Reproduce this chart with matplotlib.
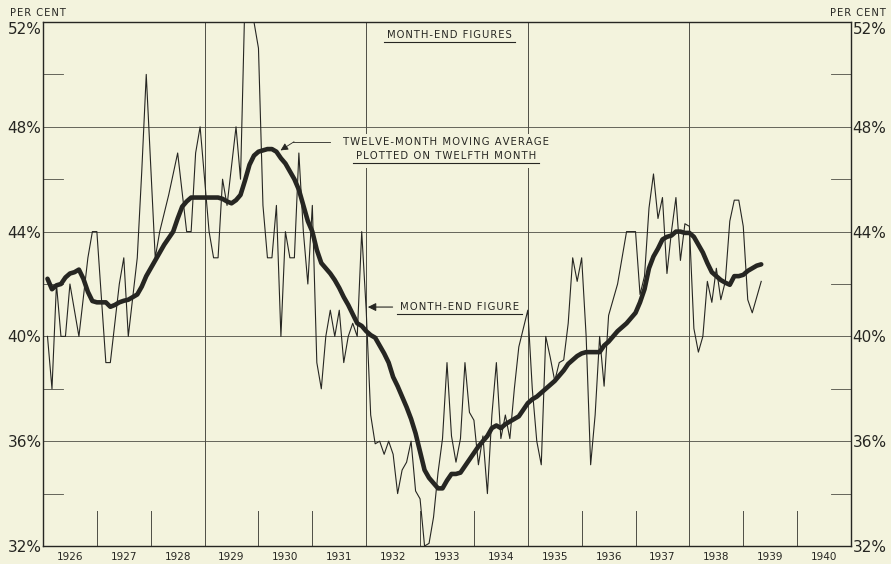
import numpy as np
import matplotlib.pyplot as plt
from matplotlib.lines import Line2D

# month-end figures in per cent, January 1926 through April 1939
month_end = [
    40, 38, 42, 40, 40, 42, 41, 40, 41.5, 43, 44, 44,                      # 1926
    41.5, 39, 39, 40.5, 42, 43, 40, 41.5, 43, 46.3, 50, 46.5,              # 1927
    43, 44, 44.7, 45.4, 46.2, 47, 45.5, 44, 44, 47, 48, 46,                # 1928
    44, 43, 43, 46, 45, 46.5, 48, 46, 53, 54, 52, 51,                      # 1929
    45, 43, 43, 45, 40, 44, 43, 43, 47, 44, 42, 45,                        # 1930
    39, 38, 40, 41, 40, 41, 39, 40, 40.5, 40, 44, 41,                      # 1931
    37, 35.9, 36, 35.5, 36, 35.5, 34, 34.9, 35.2, 36, 34.1, 33.8,          # 1932
    32, 32.1, 33.1, 34.8, 36.1, 39, 36.2, 35.2, 36.1, 39, 37.1, 36.8,      # 1933
    35.1, 36.2, 34, 37, 39, 36.1, 37, 36.1, 38, 39.6, 40.3, 41,            # 1934
    38, 36, 35.1, 40, 39.2, 38.3, 39, 39.1, 40.5, 43, 42.1, 43,            # 1935
    40, 35.1, 37, 40, 38.1, 40.8, 41.4, 42, 43, 44, 44, 44,                # 1936
    41.6, 42.3, 44.9, 46.2, 44.5, 45.3, 42.4, 44, 45.3, 42.9, 44.3, 44.2,  # 1937
    40.3, 39.4, 40, 42.1, 41.3, 42.6, 41.4, 42.1, 44.4, 45.2, 45.2, 44.2,  # 1938
    41.4, 40.9, 41.5, 42.1,                                                # 1939
]

# twelve-month moving average, plotted on the twelfth month
moving_avg = [
    42.2, 41.8, 41.95, 42.0, 42.25, 42.4, 42.45, 42.55, 42.2, 41.7, 41.35, 41.3,
    41.3, 41.3, 41.13, 41.2, 41.3, 41.36, 41.4, 41.5, 41.6, 41.9, 42.3, 42.6,
    42.9, 43.2, 43.5, 43.75, 44.0, 44.5, 44.95, 45.15, 45.3, 45.3, 45.3, 45.3,
    45.3, 45.3, 45.3, 45.25, 45.15, 45.08, 45.2, 45.4, 45.95, 46.55, 46.9, 47.05,
    47.1, 47.15, 47.15, 47.05, 46.8, 46.6, 46.3, 46.0, 45.6, 45.0, 44.4, 44.0,
    43.3, 42.8, 42.6, 42.4, 42.15, 41.85, 41.5, 41.2, 40.85, 40.5, 40.4, 40.2,
    40.05, 39.95, 39.65, 39.35, 39.0, 38.45, 38.1, 37.7, 37.3, 36.85, 36.3, 35.6,
    34.9, 34.6, 34.4, 34.2, 34.2, 34.5, 34.75, 34.75, 34.8, 35.05, 35.3, 35.55,
    35.8, 36.0, 36.2, 36.5, 36.6, 36.5, 36.65, 36.75, 36.85, 36.95, 37.2, 37.45,
    37.6, 37.7, 37.85, 38.0, 38.15, 38.3, 38.5, 38.7, 38.95, 39.1, 39.25, 39.35,
    39.4, 39.4, 39.4, 39.4, 39.65, 39.8, 40.0, 40.2, 40.35, 40.5, 40.7, 40.9,
    41.3, 41.8, 42.6, 43.05, 43.35, 43.7, 43.8, 43.85, 44.0, 44.0, 43.95, 43.95,
    43.8, 43.5, 43.2, 42.8, 42.45, 42.3, 42.15, 42.05, 41.97, 42.3, 42.3, 42.35,
    42.5, 42.6, 42.7, 42.75,
]

years = list(range(1926, 1941))
pct_ticks = [32, 36, 40, 44, 48, 52]
short_pct = [34, 38, 42, 46, 50]
full_year_lines = [1929, 1932, 1935, 1938]

bg = '#f3f3dd'
ink = '#262622'
grid = '#4d4d45'

# each value sits at its month end
months = 1926 + np.arange(1, len(month_end) + 1) / 12


def spaced(s):
    # hand-lettered look: open up the letters a little
    return '\u200a'.join(s)


fig = plt.figure(figsize=(8.91, 5.64), dpi=100, facecolor=bg)
ax = fig.add_axes([43 / 891, 18 / 564, 808 / 891, 524 / 564])
ax.set_facecolor(bg)
ax.set_xlim(1926, 1941)
ax.set_ylim(32, 52)

for v in pct_ticks[1:-1]:
    ax.axhline(v, color=grid, lw=0.6, zorder=1)
for v in short_pct:
    ax.axhline(v, xmin=0, xmax=0.025, color=grid, lw=0.6, zorder=1)
    ax.axhline(v, xmin=0.975, xmax=1, color=grid, lw=0.6, zorder=1)
for yr in years[1:]:
    if yr in full_year_lines:
        ax.axvline(yr, color=grid, lw=0.7, zorder=1)
    else:
        ax.axvline(yr, ymin=0, ymax=0.067, color=grid, lw=0.7, zorder=1)

ax.plot(months, month_end, color=ink, lw=0.8, zorder=4)
ax.plot(months, moving_avg, color=ink, lw=3.3, solid_capstyle='round',
        solid_joinstyle='round', zorder=5)

for s in ax.spines.values():
    s.set_color(ink)
    s.set_linewidth(1.0)

ax.set_xticks([y + 0.5 for y in years])
ax.set_xticklabels([str(y) for y in years], fontsize=7.5, color=ink)
ax.set_yticks(pct_ticks)
ax.set_yticklabels([f'{v}%' for v in pct_ticks], fontsize=11, color=ink)
ax.tick_params(axis='x', length=0, pad=4)
ax.tick_params(axis='y', length=0, pad=1, left=False, right=False,
               labelleft=True, labelright=True)
top_tick = ax.yaxis.get_major_ticks()[-1]
top_tick.label1.set_va('top')
top_tick.label2.set_va('top')

fig.text(10 / 891, 1 - 13 / 564, spaced('PER CENT'), fontsize=7.2, color=ink,
         ha='left', va='center')
fig.text(886 / 891, 1 - 13 / 564, spaced('PER CENT'), fontsize=7.2, color=ink,
         ha='right', va='center')

underlined = []
t = ax.text(1933.54, 51.5, spaced('MONTH-END FIGURES'), fontsize=7.2,
            color=ink, ha='center', va='center', zorder=3)
underlined.append(t)

# two-line caption: the lower line's backing box sits under the upper line
t = ax.text(1933.48, 46.88, spaced('PLOTTED ON TWELFTH MONTH'), fontsize=7.3,
            color=ink, ha='center', va='center', zorder=3,
            bbox=dict(facecolor=bg, edgecolor='none', pad=5))
underlined.append(t)
ax.text(1933.48, 47.43, spaced('TWELVE-MONTH MOVING AVERAGE'), fontsize=7.3,
        color=ink, ha='center', va='center', zorder=3.2,
        bbox=dict(facecolor=bg, edgecolor='none', pad=2))
ax.plot([1931.33, 1930.64], [47.43, 47.43], color=ink, lw=0.6, zorder=3.3)
ax.annotate('', xy=(1930.41, 47.1), xytext=(1930.66, 47.43),
            arrowprops=dict(arrowstyle='-|>', color=ink, lw=0.6,
                            mutation_scale=11, shrinkA=0, shrinkB=0),
            zorder=6)

t = ax.text(1933.73, 41.12, spaced('MONTH-END FIGURE'), fontsize=7.3,
            color=ink, ha='center', va='center', zorder=3)
underlined.append(t)
ax.annotate('', xy=(1932.03, 41.12), xytext=(1932.49, 41.12),
            arrowprops=dict(arrowstyle='-|>', color=ink, lw=0.8,
                            mutation_scale=12, shrinkA=0, shrinkB=0),
            zorder=6)

# rule a line under each underlined caption
fig.canvas.draw()
inv = fig.transFigure.inverted()
for t in underlined:
    bb = t.get_window_extent()
    (x0, y0), (x1, _) = inv.transform([(bb.x0 - 3, bb.y0 - 1.5), (bb.x1 + 3, bb.y0)])
    fig.add_artist(Line2D([x0, x1], [y0, y0], color=ink, lw=0.8, zorder=6))

fig.savefig('out.png', dpi=100, facecolor=bg)
